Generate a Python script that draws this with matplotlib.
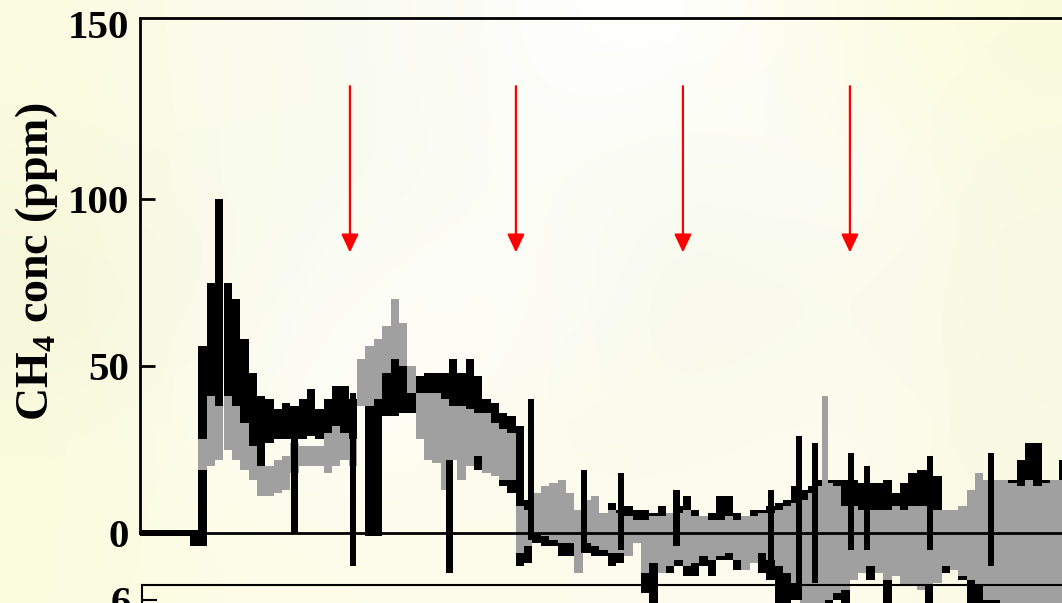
import numpy as np
import matplotlib.pyplot as plt
from matplotlib.colors import to_rgb
from matplotlib.transforms import ScaledTranslation

plt.rcParams['font.family'] = ['Liberation Serif', 'DejaVu Serif']
plt.rcParams['font.weight'] = 'bold'
plt.rcParams['mathtext.fontset'] = 'custom'
plt.rcParams['mathtext.bf'] = 'Liberation Serif:bold'
plt.rcParams['mathtext.rm'] = 'Liberation Serif:bold'

nan = np.nan

# CH4 record, half-day bins: upper / lower edge of each sensor trace (ppm)
black_hi = [0.8, 0.8, 0.8, 0.8, 0.8, 0.8, 1, 56, 75, 100,
            75, 70, 58, 48, 41, 40, 37, 39, 38, 40,
            43, 37, 40, 44, 44, 40, nan, 45, 45, 52,
            54, 53, 48, 47, 48, 48, 48, 52, 48, 52,
            47, 40, 39, 36, 35, 32, 10, 6, 6, 5,
            4, 3, 3, 6, 6, 5, 9, 7, 8, 7,
            7, 6, 8, 5, 8, 11, 7, 4, 6, 11,
            11, 6, 5, 7, 7, 8, 9, 10, 14, 13,
            14, 16, 16, 16, 16, 16, 15, 15, 15, 16,
            12, 15, 18, 19, 19, 17, 6, 6, 8, 6,
            6, 10, 12, 14, 16, 22, 27, 27, 16, 14,
            22]
black_lo = [-1, -1, -1, -1, -1, -1, -4, -4, 28, 30,
            28, 28, 26, 24, 20, 27, 28, 28, 28, 28,
            29, 28, 27, 28, 30, 22, nan, -1, -1, 35,
            35, 36, 36, 38, 38, 38, 36, 36, 36, 36,
            19, 30, 30, 14, 12, -10, -9, -3, -4, -4,
            -7, -7, -6, -6, -7, -7, -10, -9, -5, -2,
            -18, -21, -11, -12, -10, -13, -13, -10, -13, -8,
            -8, -11, -7, -6, -12, -14, -22, -22, -20, -22,
            -22, -22, -22, -20, -22, -12, -12, -14, -10, -22,
            -12, -14, -12, -16, -22, -14, -12, -10, -14, -22,
            -22, -22, -22, -22, -22, -22, -22, -22, -22, -22,
            -22]
gray_hi = [nan, nan, nan, nan, nan, nan, nan, 28, 41, 38,
           41, 38, 33, 26, 20, 20, 22, 23, 27, 26,
           26, 26, 30, 32, 30, 28, 52, 56, 58, 62,
           70, 63, 50, 42, 42, 42, 40, 38, 38, 37,
           36, 36, 33, 31, 30, 8, 7, 12, 14, 15,
           16, 12, 7, 10, 11, 6, 7, 6, 5, 4,
           4, 5, 5, 6, 6, 7, 5, 5, 4, 4,
           5, 4, 5, 5, 6, 6, 7, 8, 9, 10,
           12, 14, 15, 14, 8, 8, 7, 7, 7, 7,
           8, 7, 8, 8, 8, 7, 7, 7, 8, 13,
           18, 16, 16, 16, 15, 14, 16, 14, 15, 16,
           16]
gray_lo = [nan, nan, nan, nan, nan, nan, nan, 19, 20, 22,
           25, 22, 19, 16, 11, 11, 12, 13, 18, 20,
           20, 20, 18, 20, 22, 20, 38, 38, 40, 48,
           52, 50, 42, 28, 22, 21, 13, 22, 16, 20,
           23, 18, 17, 16, 16, -6, -4, 0, -1, -2,
           -3, -3, -12, -3, -4, -5, -6, -6, -7, -3,
           -12, -9, -12, -10, -8, -10, -9, -7, -8, -7,
           -6, -8, -11, -9, -6, -8, -10, -12, -15, -22,
           -22, -22, -20, -18, -17, -14, -12, -10, -12, -14,
           -13, -16, -16, -17, -16, -15, -10, -11, -13, -14,
           -16, -20, -20, -22, -22, -22, -22, -22, -22, -22,
           -22]

# short excursions of the black trace (day, low, high)
spike_day = [9.25, 12.75, 18.53, 23.41, 26.59, 28.80, 32.13, 37.78,
             39.46, 40.42, 42.57, 43.53, 47.31, 50.96]
spike_lo = [0, -10, -12, -2, -6, -5, -4, -14, -20, -15, -5, -5, -5, -10]
spike_hi = [31, 42, 22, 40, 19, 18, 13, 13, 29, 27, 24, 20, 23, 24]
# one excursion of the grey trace
gspike_day = [41.02]
gspike_lo = [0]
gspike_hi = [41]

# sampling events
event_day = [12.57, 22.51, 32.51, 42.51]

bin_w = 0.5
days = np.arange(len(black_hi)) * bin_w

fig = plt.figure(figsize=(10.62, 6.03), dpi=100)

# pale slide background
bg_rows = [
    ['#fbfbe0', '#fbfcee', '#fafbf0', '#fefefb', '#ffffff', '#fcfde8', '#fbfcdc'],
    ['#fafbdc', '#f9fbee', '#f9fbef', '#fdfef8', '#f9fbee', '#fefefa', '#f9fae2'],
    ['#f3f6da', '#fafbec', '#fefefa', '#fefefa', '#f7f9ea', '#fafbee', '#f8f9e2'],
    ['#fbfbdc', '#fcfdf2', '#fefef8', '#fcfcec', '#fafbec', '#fcfdf0', '#f9fae4'],
    ['#fcfcde', '#fcfce8', '#fdfdea', '#fcfcea', '#fcfdf0', '#fcfdee', '#fafbe2'],
]
bg = np.array([[to_rgb(c) for c in row] for row in bg_rows])
bg_ax = fig.add_axes([0, 0, 1, 1], zorder=-10)
bg_ax.imshow(bg, aspect='auto', interpolation='bicubic', extent=[0, 1, 0, 1])
bg_ax.axis('off')

ax = fig.add_axes([140 / 1062, 1 - 533 / 603, 1 - 140 / 1062, (533 - 18) / 603])
ax.patch.set_alpha(0)

bh, bl = np.array(black_hi), np.array(black_lo)
gh, gl = np.array(gray_hi), np.array(gray_lo)
ok = ~np.isnan(bh)
ax.bar(days[ok], bh[ok] - bl[ok], bottom=bl[ok], width=bin_w, align='edge',
       color='black', lw=0, clip_on=False, zorder=1.1)
ok = ~np.isnan(gh)
ax.bar(days[ok], gh[ok] - gl[ok], bottom=gl[ok], width=bin_w, align='edge',
       color='#a0a0a0', lw=0, clip_on=False, zorder=1.2)
ax.bar(spike_day, np.array(spike_hi) - np.array(spike_lo), bottom=spike_lo,
       width=0.4, color='black', lw=0, clip_on=False, zorder=1.3)
ax.bar(gspike_day, np.array(gspike_hi) - np.array(gspike_lo), bottom=gspike_lo,
       width=0.35, color='#a0a0a0', lw=0, clip_on=False, zorder=1.4)

for d in event_day:
    ax.annotate('', xy=(d, 84.0), xytext=(d, 133.8),
                arrowprops=dict(arrowstyle='-|>,head_length=0.55,head_width=0.26',
                                color='#ff0000', lw=1.6, mutation_scale=20,
                                shrinkA=0, shrinkB=0), zorder=3)

ax.set_xlim(0, 922 / 16.7)
ax.set_ylim(0, 154.2)
ax.set_xticks([])
ax.set_yticks([0, 50, 100, 150])
ax.tick_params(axis='y', direction='in', length=11, width=2, labelsize=29.5, pad=8)
top_tick = ax.yaxis.get_major_ticks()[-1]
top_tick.tick1line.set_visible(False)
top_tick.label1.set_transform(top_tick.label1.get_transform()
                              + ScaledTranslation(0, 6 / 72, fig.dpi_scale_trans))
for s in ['left', 'top', 'bottom']:
    ax.spines[s].set_linewidth(2)
ax.spines['right'].set_visible(False)

fig.text(37 / 1062, 1 - 262 / 603, r'CH$_{\mathbf{4}}$ conc (ppm)', rotation=90,
         ha='center', va='center', fontsize=33, fontweight='bold')

# top of the panel below
ax2 = fig.add_axes([142 / 1062, 1 - 585 / 603 - 465 / 603, 1 - 142 / 1062, 465 / 603])
ax2.patch.set_alpha(0)
ax2.set_ylim(0, 6.2)
ax2.set_xticks([])
ax2.set_yticks([6])
ax2.tick_params(axis='y', direction='in', length=11, width=1.5, labelsize=29.5, pad=8)
ax2.spines['right'].set_visible(False)
ax2.spines['bottom'].set_visible(False)
for s in ['left', 'top']:
    ax2.spines[s].set_linewidth(1.5)

fig.savefig('out.png', dpi=100)
